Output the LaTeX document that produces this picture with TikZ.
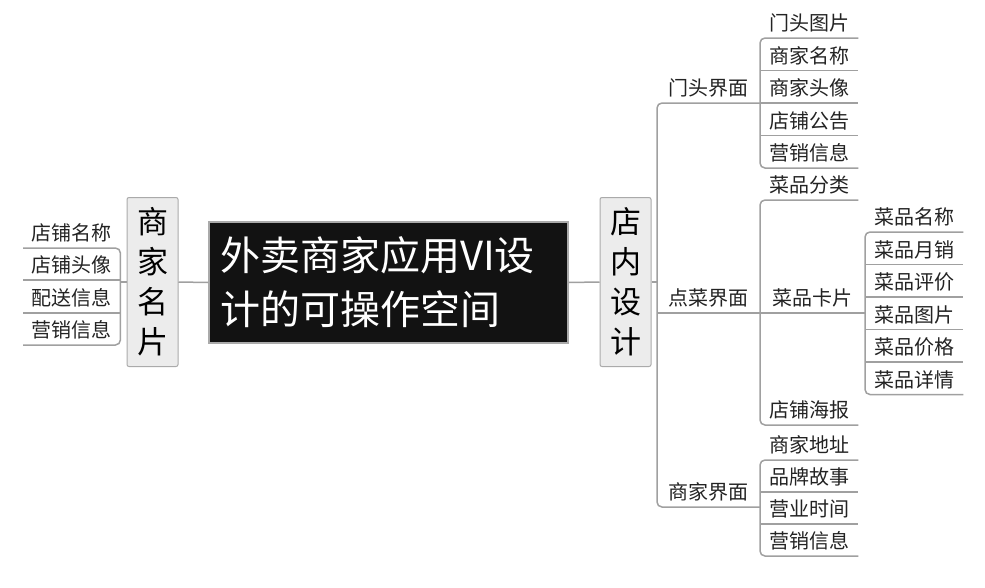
\documentclass[tikz,border=0pt]{standalone}
\usepackage{fontspec}
\setmainfont{Noto Sans CJK SC}
\usepackage{tikz}
\usepackage{xcolor}
\usetikzlibrary{positioning, calc}
\definecolor{cLine}{RGB}{160,160,160}
\definecolor{cBorder}{RGB}{170,170,170}
\definecolor{cBox}{RGB}{236,236,236}
\definecolor{cRoot}{RGB}{18,18,18}
\definecolor{cText}{RGB}{35,35,35}
\tikzset{
	rootbox/.style ={rectangle, draw=cBorder, line width=1.2pt, fill=cRoot, text=white, minimum width=359pt, minimum height=121pt, text width=337pt, inner xsep=11pt, align=left, font=\fontsize{40}{54}\selectfont},
	topicbox/.style={rectangle, rounded corners=2pt, draw=cBorder, line width=1pt, fill=cBox, text=black, minimum width=51pt, minimum height=169pt, inner sep=0pt, align=center, font=\fontsize{31}{40}\selectfont},
	leaf/.style    ={anchor=south west, minimum width=98pt, text height=16pt, text depth=3pt, inner ysep=4pt, inner xsep=0pt, text=cText, font=\fontsize{20}{20}\selectfont},
	link/.style    ={draw=cLine, line width=1.5pt},
	brace/.style   ={link, rounded corners=5pt},
}

\begin{document}
\begin{tikzpicture}[x=1pt, y=-1pt]
	\useasboundingbox (0,0) rectangle (985,587);
	% centre and main topics
	\node[rootbox] (root) at (388.5,282.5) {外卖商家应用VI设\\计的可操作空间};
	\node[topicbox] (namecard) at (152.5,282) {商\\家\\名\\片};
	\node[topicbox] (shopdesign) at (625.5,282) {店\\内\\设\\计};
	\draw[link] (namecard.east) -- (root.west);
	\draw[link] (root.east) -- (shopdesign.west);

	% left branch
	\foreach \n/\y/\t in {ln1/248/店铺名称, ln2/280/店铺头像, ln3/313/配送信息, ln4/345/营销信息}
		\node[leaf, minimum width=97pt] (\n) at (23,\y) {\t};
	\draw[brace] (ln1.south west) -- (ln1.south east) -- (ln4.south east) -- (ln4.south west);
	\foreach \n in {ln2, ln3}
		\draw[link] (\n.south west) -- (\n.south east);
	\draw[link] (namecard.west) -- (namecard.west -| ln1.south east);

	% right branch
	\node[leaf, minimum width=103pt] (door) at (657,103) {门头界面};
	\node[leaf, minimum width=103pt] (order) at (657,313) {点菜界面};
	\node[leaf, minimum width=103pt] (merchant) at (657,507) {商家界面};
	\draw[brace] (door.south east) -- (door.south west) -- (merchant.south west) -- (merchant.south east);
	\draw[link] (order.south west) -- (order.south east);
	\draw[link] (shopdesign.east) -- (shopdesign.east -| door.south west);

	\foreach \n/\y/\t in {door1/38/门头图片, door2/70.5/商家名称, door3/103/商家头像, door4/135.5/店铺公告, door5/168/营销信息}
		\node[leaf] (\n) at (760,\y) {\t};
	\draw[brace] (door1.south east) -- (door1.south west) -- (door5.south west) -- (door5.south east);
	\foreach \n in {door2, door3, door4}
		\draw[link] (\n.south west) -- (\n.south east);

	\node[leaf] (dishcat) at (760,200) {菜品分类};
	\node[leaf, minimum width=105pt] (dishcard) at (760,313) {菜品卡片};
	\node[leaf] (poster) at (760,425) {店铺海报};
	\draw[brace] (dishcat.south east) -- (dishcat.south west) -- (poster.south west) -- (poster.south east);
	\draw[link] (dishcard.south west) -- (dishcard.south east);

	\foreach \n/\y/\t in {card1/232/菜品名称, card2/264.5/菜品月销, card3/297/菜品评价, card4/329.5/菜品图片, card5/362/菜品价格, card6/394.5/菜品详情}
		\node[leaf] (\n) at (865,\y) {\t};
	\draw[brace] (card1.south east) -- (card1.south west) -- (card6.south west) -- (card6.south east);
	\foreach \n in {card2, card3, card4, card5}
		\draw[link] (\n.south west) -- (\n.south east);

	\foreach \n/\y/\t in {merch1/460/商家地址, merch2/492/品牌故事, merch3/524/营业时间, merch4/556/营销信息}
		\node[leaf] (\n) at (760,\y) {\t};
	\draw[brace] (merch1.south east) -- (merch1.south west) -- (merch4.south west) -- (merch4.south east);
	\foreach \n in {merch2, merch3}
		\draw[link] (\n.south west) -- (\n.south east);
\end{tikzpicture}
\end{document}
